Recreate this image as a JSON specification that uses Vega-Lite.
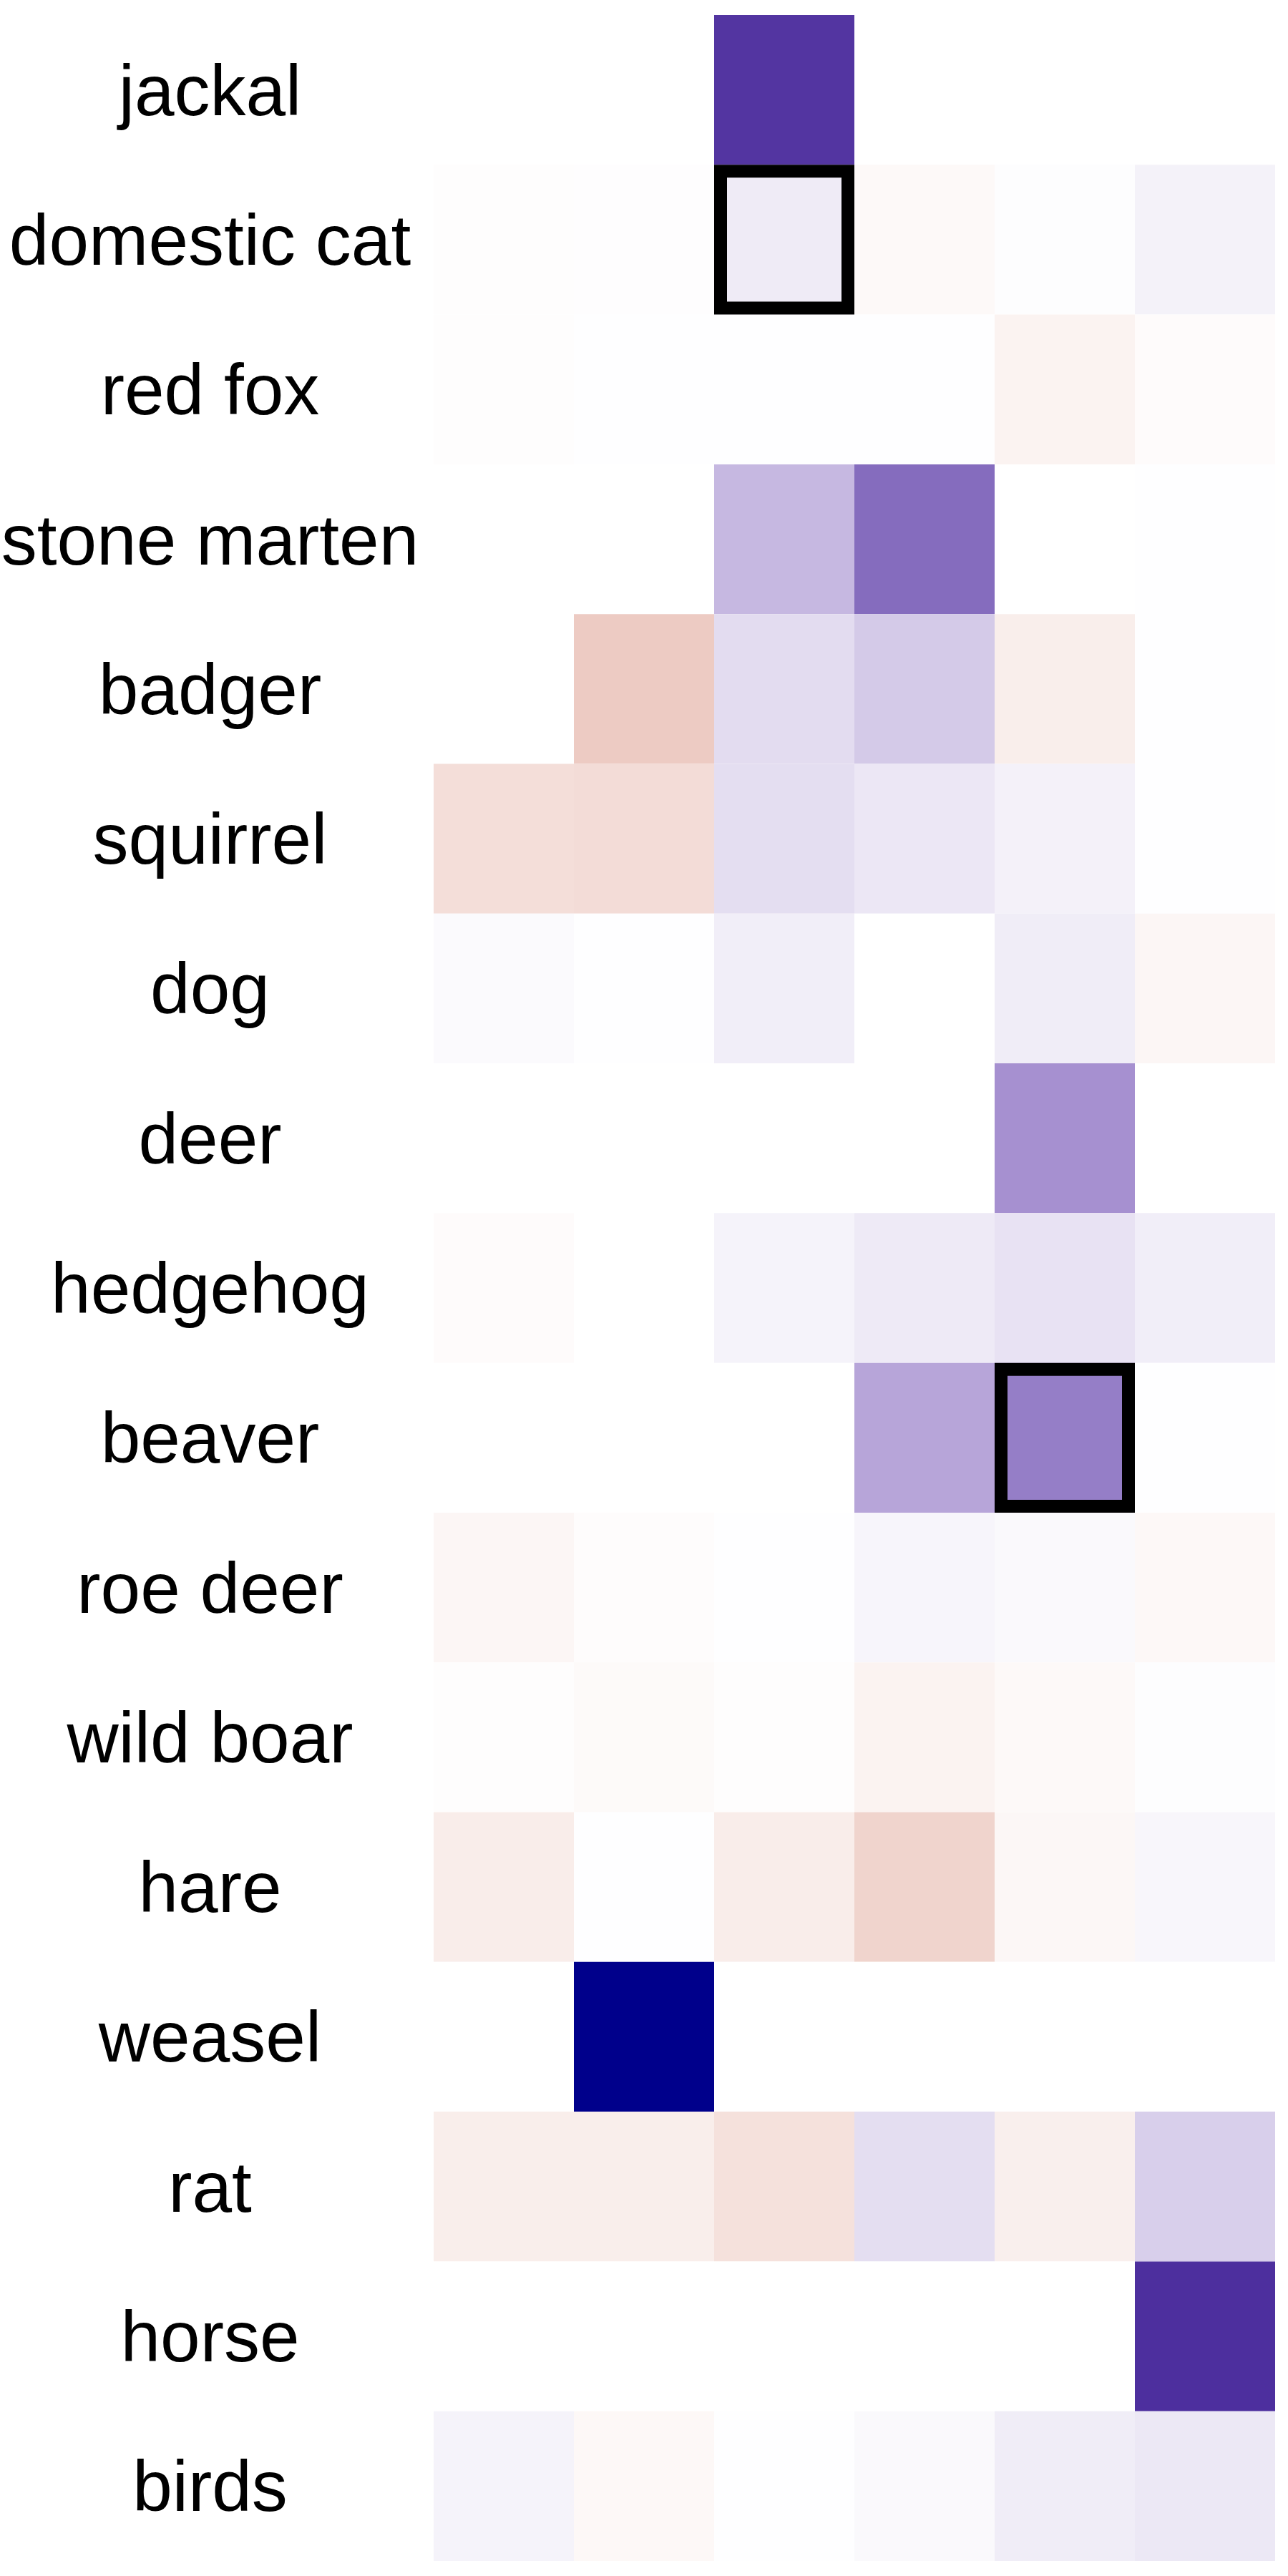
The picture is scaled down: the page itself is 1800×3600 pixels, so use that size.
{
  "$schema": "https://vega.github.io/schema/vega-lite/v6.json",
  "width": 1176,
  "height": 3558,
  "autosize": "none",
  "padding": {"left": 606, "top": 21, "right": 18, "bottom": 21},
  "background": "white",
  "config": {"view": {"stroke": null}},
  "data": {
    "values": [
      {"animal": "jackal", "col": 1, "value": 0},
      {"animal": "jackal", "col": 2, "value": 0},
      {"animal": "jackal", "col": 3, "value": 0.9},
      {"animal": "jackal", "col": 4, "value": 0},
      {"animal": "jackal", "col": 5, "value": 0},
      {"animal": "jackal", "col": 6, "value": 0},
      {"animal": "domestic cat", "col": 1, "value": -0.01},
      {"animal": "domestic cat", "col": 2, "value": 0.008},
      {"animal": "domestic cat", "col": 3, "value": 0.09, "highlight": true},
      {"animal": "domestic cat", "col": 4, "value": -0.033},
      {"animal": "domestic cat", "col": 5, "value": 0.01},
      {"animal": "domestic cat", "col": 6, "value": 0.058},
      {"animal": "red fox", "col": 1, "value": -0.01},
      {"animal": "red fox", "col": 2, "value": 0.005},
      {"animal": "red fox", "col": 3, "value": 0.005},
      {"animal": "red fox", "col": 4, "value": 0.005},
      {"animal": "red fox", "col": 5, "value": -0.066},
      {"animal": "red fox", "col": 6, "value": -0.02},
      {"animal": "stone marten", "col": 1, "value": 0},
      {"animal": "stone marten", "col": 2, "value": 0},
      {"animal": "stone marten", "col": 3, "value": 0.314},
      {"animal": "stone marten", "col": 4, "value": 0.653},
      {"animal": "stone marten", "col": 5, "value": 0},
      {"animal": "stone marten", "col": 6, "value": 0.005},
      {"animal": "badger", "col": 1, "value": 0},
      {"animal": "badger", "col": 2, "value": -0.286},
      {"animal": "badger", "col": 3, "value": 0.155},
      {"animal": "badger", "col": 4, "value": 0.235},
      {"animal": "badger", "col": 5, "value": -0.093},
      {"animal": "badger", "col": 6, "value": 0.005},
      {"animal": "squirrel", "col": 1, "value": -0.18},
      {"animal": "squirrel", "col": 2, "value": -0.19},
      {"animal": "squirrel", "col": 3, "value": 0.146},
      {"animal": "squirrel", "col": 4, "value": 0.106},
      {"animal": "squirrel", "col": 5, "value": 0.062},
      {"animal": "squirrel", "col": 6, "value": 0.005},
      {"animal": "dog", "col": 1, "value": 0.02},
      {"animal": "dog", "col": 2, "value": 0.005},
      {"animal": "dog", "col": 3, "value": 0.075},
      {"animal": "dog", "col": 4, "value": 0},
      {"animal": "dog", "col": 5, "value": 0.08},
      {"animal": "dog", "col": 6, "value": -0.05},
      {"animal": "deer", "col": 1, "value": 0},
      {"animal": "deer", "col": 2, "value": 0},
      {"animal": "deer", "col": 3, "value": 0},
      {"animal": "deer", "col": 4, "value": 0},
      {"animal": "deer", "col": 5, "value": 0.49},
      {"animal": "deer", "col": 6, "value": 0},
      {"animal": "hedgehog", "col": 1, "value": -0.02},
      {"animal": "hedgehog", "col": 2, "value": 0},
      {"animal": "hedgehog", "col": 3, "value": 0.053},
      {"animal": "hedgehog", "col": 4, "value": 0.093},
      {"animal": "hedgehog", "col": 5, "value": 0.128},
      {"animal": "hedgehog", "col": 6, "value": 0.075},
      {"animal": "beaver", "col": 1, "value": 0},
      {"animal": "beaver", "col": 2, "value": 0},
      {"animal": "beaver", "col": 3, "value": 0},
      {"animal": "beaver", "col": 4, "value": 0.398},
      {"animal": "beaver", "col": 5, "value": 0.572, "highlight": true},
      {"animal": "beaver", "col": 6, "value": 0.004},
      {"animal": "roe deer", "col": 1, "value": -0.05},
      {"animal": "roe deer", "col": 2, "value": -0.016},
      {"animal": "roe deer", "col": 3, "value": 0.005},
      {"animal": "roe deer", "col": 4, "value": 0.044},
      {"animal": "roe deer", "col": 5, "value": 0.027},
      {"animal": "roe deer", "col": 6, "value": -0.038},
      {"animal": "wild boar", "col": 1, "value": -0.01},
      {"animal": "wild boar", "col": 2, "value": -0.027},
      {"animal": "wild boar", "col": 3, "value": -0.01},
      {"animal": "wild boar", "col": 4, "value": -0.066},
      {"animal": "wild boar", "col": 5, "value": -0.033},
      {"animal": "wild boar", "col": 6, "value": 0.01},
      {"animal": "hare", "col": 1, "value": -0.1},
      {"animal": "hare", "col": 2, "value": 0.004},
      {"animal": "hare", "col": 3, "value": -0.1},
      {"animal": "hare", "col": 4, "value": -0.236},
      {"animal": "hare", "col": 5, "value": -0.044},
      {"animal": "hare", "col": 6, "value": 0.04},
      {"animal": "weasel", "col": 1, "value": 0},
      {"animal": "weasel", "col": 2, "value": 1.2},
      {"animal": "weasel", "col": 3, "value": 0},
      {"animal": "weasel", "col": 4, "value": 0},
      {"animal": "weasel", "col": 5, "value": 0},
      {"animal": "weasel", "col": 6, "value": 0},
      {"animal": "rat", "col": 1, "value": -0.093},
      {"animal": "rat", "col": 2, "value": -0.093},
      {"animal": "rat", "col": 3, "value": -0.165},
      {"animal": "rat", "col": 4, "value": 0.146},
      {"animal": "rat", "col": 5, "value": -0.088},
      {"animal": "rat", "col": 6, "value": 0.212},
      {"animal": "horse", "col": 1, "value": 0},
      {"animal": "horse", "col": 2, "value": 0},
      {"animal": "horse", "col": 3, "value": 0},
      {"animal": "horse", "col": 4, "value": 0},
      {"animal": "horse", "col": 5, "value": 0},
      {"animal": "horse", "col": 6, "value": 0.93},
      {"animal": "birds", "col": 1, "value": 0.053},
      {"animal": "birds", "col": 2, "value": -0.038},
      {"animal": "birds", "col": 3, "value": 0.004},
      {"animal": "birds", "col": 4, "value": 0.027},
      {"animal": "birds", "col": 5, "value": 0.08},
      {"animal": "birds", "col": 6, "value": 0.102}
    ]
  },
  "layer": [
    {
      "mark": {"type": "rect"},
      "encoding": {
        "x": {"field": "col", "type": "ordinal", "axis": null, "scale": {"paddingInner": 0, "paddingOuter": 0}},
        "y": {
          "field": "animal", "type": "nominal",
          "sort": ["jackal", "domestic cat", "red fox", "stone marten", "badger", "squirrel", "dog", "deer", "hedgehog", "beaver", "roe deer", "wild boar", "hare", "weasel", "rat", "horse", "birds"],
          "scale": {"paddingInner": 0, "paddingOuter": 0},
          "axis": {"title": null, "ticks": false, "tickSize": 0, "domain": false, "labelFontSize": 100, "labelFont": "Liberation Sans", "labelColor": "black", "labelAlign": "center", "labelBaseline": "middle", "labelPadding": 313, "labelOffset": 5, "labelLimit": 0}
        },
        "color": {
          "condition": {"test": "datum.value > 1", "value": "#00008B"},
          "field": "value", "type": "quantitative",
          "scale": {"domain": [-1, 0, 0.5, 1], "range": ["#C0492D", "#ffffff", "#A48ECF", "#3F1F96"], "interpolate": "rgb"},
          "legend": null
        }
      }
    },
    {
      "transform": [{"filter": "datum.highlight === true"}],
      "mark": {"type": "rect", "filled": false, "stroke": "black", "strokeWidth": 18, "width": 178, "height": 191.3},
      "encoding": {
        "x": {"field": "col", "type": "ordinal"},
        "y": {"field": "animal", "type": "nominal", "sort": ["jackal", "domestic cat", "red fox", "stone marten", "badger", "squirrel", "dog", "deer", "hedgehog", "beaver", "roe deer", "wild boar", "hare", "weasel", "rat", "horse", "birds"]}
      }
    }
  ]
}
